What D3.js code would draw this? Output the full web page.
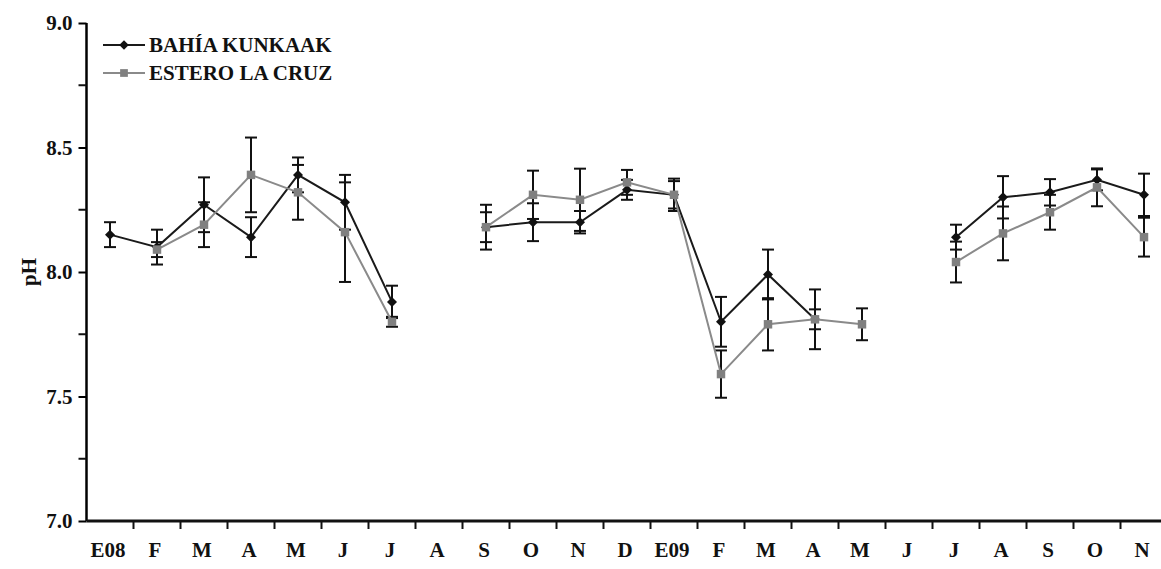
<!DOCTYPE html>
<html>
<head>
<meta charset="utf-8">
<script src="https://cdn.jsdelivr.net/npm/d3@7"></script>
<style>
  body { margin: 0; background: #fff; }
  text { font-family: "Liberation Serif", "DejaVu Serif", serif; font-weight: bold; fill: #111; }
</style>
</head>
<body>
<script>
// Month labels along the x axis (two years, E = enero)
var months = ["E08", "F", "M", "A", "M", "J", "J", "A", "S", "O", "N", "D",
  "E09", "F", "M", "A", "M", "J", "J", "A", "S", "O", "N"];

// pH means and error bar half-widths, null = no sample
var kunkaak = [8.15, 8.10, 8.27, 8.14, 8.39, 8.28, 7.88, null, 8.18, 8.20, 8.20, 8.33,
  8.31, 7.80, 7.99, 7.81, null, null, 8.14, 8.30, 8.32, 8.37, 8.31];
var kunkaakErr = [0.05, 0.07, 0.11, 0.08, 0.07, 0.11, 0.065, null, 0.06, 0.076, 0.045, 0.04,
  0.065, 0.10, 0.10, 0.04, null, null, 0.05, 0.085, 0.053, 0.042, 0.085];

var cruz = [null, 8.09, 8.19, 8.39, 8.32, 8.16, 7.80, null, 8.18, 8.31, 8.29, 8.36,
  8.31, 7.59, 7.79, 7.81, 7.79, null, 8.04, 8.155, 8.24, 8.34, 8.14];
var cruzErr = [null, 0.03, 0.09, 0.15, 0.11, 0.20, 0.02, null, 0.09, 0.097, 0.125, 0.05,
  0.055, 0.095, 0.105, 0.12, 0.064, null, 0.082, 0.108, 0.07, 0.076, 0.078];

var yMajor = [7.0, 7.5, 8.0, 8.5, 9.0];
var yMinor = [7.25, 7.75, 8.25, 8.75];

var svgWidth = 1161;
var svgHeight = 569;

var svg = d3.select("body")
  .append("svg")
  .attr("width", svgWidth)
  .attr("height", svgHeight);

var x = d3.scaleBand()
  .domain(d3.range(months.length))
  .range([86.5, 86.5 + 47 * months.length]);

var y = d3.scaleLinear()
  .domain([7, 9])
  .range([521, 23]);

var cx = i => x(i) + x.bandwidth() / 2;

// y axis: major ticks with labels, minor ticks without
var leftAxis = d3.axisLeft(y)
  .tickValues(yMajor)
  .tickFormat(d3.format(".1f"))
  .tickSize(8)
  .tickPadding(6);

var yAxis = svg.append("g")
  .attr("transform", "translate(86.5,0)")
  .call(leftAxis);
yAxis.select(".domain").attr("stroke-width", 2.5).attr("d", "M0," + y(9) + "V" + y(7));
yAxis.selectAll(".tick line").attr("stroke-width", 2);
yAxis.selectAll(".tick text").attr("font-size", 21).attr("fill", "#111");

svg.append("g").selectAll("line")
  .data(yMinor)
  .enter()
  .append("line")
  .attr("x1", 78.5).attr("x2", 86.5)
  .attr("y1", d => y(d)).attr("y2", d => y(d))
  .attr("stroke", "#111").attr("stroke-width", 2);

// x axis: ticks at band edges, labels at band centres
svg.append("line")
  .attr("x1", 86.5).attr("x2", svgWidth)
  .attr("y1", y(7)).attr("y2", y(7))
  .attr("stroke", "#111").attr("stroke-width", 3);

svg.append("g").selectAll("line")
  .data(d3.range(1, months.length + 1))
  .enter()
  .append("line")
  .attr("x1", d => x(0) + d * x.step()).attr("x2", d => x(0) + d * x.step())
  .attr("y1", y(7)).attr("y2", y(7) + 8)
  .attr("stroke", "#111").attr("stroke-width", 2);

svg.append("g").selectAll("text")
  .data(months)
  .enter()
  .append("text")
  .attr("x", (d, i) => cx(i) - 2)
  .attr("y", 557)
  .attr("text-anchor", "middle")
  .attr("font-size", 21)
  .text(d => d);

svg.append("text")
  .attr("transform", "translate(36," + y(8) + ") rotate(-90)")
  .attr("text-anchor", "middle")
  .attr("font-size", 21)
  .text("pH");

// error bars, drawn under the lines
function errorBars(vals, errs) {
  var pts = d3.range(vals.length).filter(i => vals[i] != null && errs[i] != null);
  var g = svg.append("g").attr("stroke", "#111").attr("stroke-width", 2);
  g.selectAll(".stem").data(pts).enter().append("line")
    .attr("x1", cx).attr("x2", cx)
    .attr("y1", i => y(vals[i] + errs[i])).attr("y2", i => y(vals[i] - errs[i]));
  [1, -1].forEach(function(s) {
    g.selectAll(".cap" + s).data(pts).enter().append("line")
      .attr("x1", i => cx(i) - 6).attr("x2", i => cx(i) + 6)
      .attr("y1", i => y(vals[i] + s * errs[i])).attr("y2", i => y(vals[i] + s * errs[i]));
  });
}
errorBars(kunkaak, kunkaakErr);
errorBars(cruz, cruzErr);

var line = d3.line()
  .defined(d => d.v != null)
  .x(d => cx(d.i))
  .y(d => y(d.v));

function series(vals, color, size, mcolor, diamond) {
  var data = vals.map((v, i) => ({ i: i, v: v }));
  svg.append("path")
    .datum(data)
    .attr("d", line)
    .attr("fill", "none")
    .attr("stroke", color)
    .attr("stroke-width", 2);
  svg.append("g").selectAll("path")
    .data(data.filter(d => d.v != null))
    .enter()
    .append("path")
    .attr("d", d3.symbol().type(d3.symbolSquare).size(size))
    .attr("transform", d => "translate(" + cx(d.i) + "," + y(d.v) + ")" + (diamond ? " rotate(45)" : ""))
    .attr("fill", mcolor);
}
series(kunkaak, "#1a1a1a", 50, "#111", true);
series(cruz, "#8a8a8a", 72, "#808080", false);

// legend
var legend = [
  { name: "BAHÍA KUNKAAK", color: "#1a1a1a", marker: "#111", diamond: true },
  { name: "ESTERO LA CRUZ", color: "#8a8a8a", marker: "#808080", diamond: false }
];
var lg = svg.append("g").selectAll("g")
  .data(legend)
  .enter()
  .append("g")
  .attr("transform", (d, i) => "translate(103," + (45 + i * 28) + ")");
lg.append("line")
  .attr("x1", 0).attr("x2", 42)
  .attr("stroke", d => d.color).attr("stroke-width", 2);
lg.append("path")
  .attr("d", d => d3.symbol().type(d3.symbolSquare).size(d.diamond ? 45 : 60)())
  .attr("transform", d => "translate(21,0)" + (d.diamond ? " rotate(45)" : ""))
  .attr("fill", d => d.marker);
lg.append("text")
  .attr("x", 46)
  .attr("y", 7)
  .attr("font-size", 21)
  .text(d => d.name);
</script>
</body>
</html>
